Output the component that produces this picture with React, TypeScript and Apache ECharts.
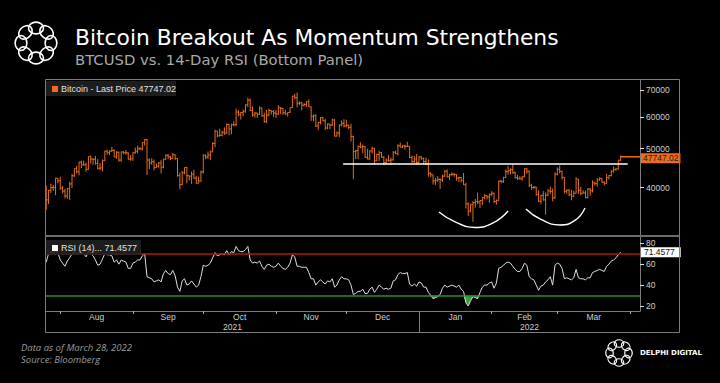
import { useEffect, useRef } from "react";
import * as echarts from "echarts";

// ---------- data ----------
const START_DATE = "2021-07-26";
const FIRST_OPEN = 35400; // close of 2021-07-25
const LAST_PRICE = 47747.02;
const LAST_RSI = 71.4577;

const closes = [
  37300, 39400, 40000, 40000, 42200, 41600,
  39900, 39200, 38150, 39750, 40870, 42820, 44600, 43800, 46300, 45600, 45580, 44430, 47800, 47100, 47050, 45950, 44700, 44800, 46700, 49300, 48900, 49300, 49550, 47700, 48970, 46850, 49070, 48900, 48800, 47050, 47170,
  48850, 49300, 50000, 49950, 51770, 52660, 46860, 46100, 46400, 44850, 45200, 46060, 44960, 47100, 48150, 47750, 47300, 48300, 47260, 42850, 40690, 43560, 44890, 42840, 42720, 43200, 42220, 41030, 41560, 43790,
  48120, 47700, 48200, 49100, 51500, 55300, 53800, 53950, 54950, 54650, 57470, 56000, 57370, 57350, 61670, 60880, 61530, 62000, 64280, 66000, 62200, 60690, 61290, 60860, 63080, 60330, 58450, 60620, 62230, 61880, 61320,
  61000, 63220, 62970, 61450, 61000, 61530, 63300, 67550, 66970, 64880, 64950, 64150, 64400, 65470, 63560, 60160, 60370, 56940, 58120, 59750, 58700, 56300, 57570, 57200, 58960, 53730, 54720, 57270, 57800, 56950,
  57180, 56500, 53600, 49200, 49400, 50580, 50470, 50600, 47590, 47150, 49380, 50100, 46700, 48340, 48860, 47630, 46130, 46830, 46680, 46900, 48990, 48600, 50820, 50430, 50800, 50640, 50700, 47540, 46470, 47120, 46210,
  47700, 47300, 46430, 45830, 43430, 43080, 41560, 41730, 41900, 41820, 42740, 43950, 42590, 43100, 43180, 43110, 42250, 42380, 41680, 40680, 36450, 35030, 36280, 36690, 36950, 36850, 37150, 37780, 38180, 37920, 38480,
  38740, 36950, 37150, 41500, 41410, 42410, 43840, 44100, 44340, 43570, 42410, 42200, 42090, 42550, 44580, 43960, 40550, 40030, 40120, 38430, 37020, 38280, 37300, 38330, 39240, 39130, 37720, 43190,
  44420, 43920, 42450, 39150, 39400, 38420, 38060, 38740, 41980, 39440, 38730, 38810, 37790, 39670, 39280, 41110, 40920, 41770, 42190, 41260, 41000, 42360, 42890, 43960, 44350, 44500, 46820, 47747.02,
];

const highs = [
  40500, 39500, 40900, 40600, 42300, 42300,
  42600, 40400, 39700, 39950, 41400, 43300, 44700, 45300, 46400, 46700, 46700, 46200, 47900, 48100, 47300, 48000, 47100, 46000, 47000, 49400, 49700, 49500, 50500, 49800, 49300, 49200, 49200, 49300, 49600, 49000, 48200,
  49000, 50300, 50900, 50500, 51800, 52800, 52900, 47300, 47300, 47000, 45900, 46300, 46900, 47200, 48400, 48500, 48000, 48800, 48400, 47300, 43600, 44000, 44900, 45100, 42900, 43900, 44300, 42800, 42600, 44100,
  48400, 48400, 49200, 49500, 51900, 55700, 55300, 56100, 55400, 56500, 57800, 57600, 57700, 58500, 62900, 62300, 61700, 62600, 64400, 67000, 66600, 63700, 61700, 61500, 63700, 63300, 61500, 62400, 62900, 62300, 62400,
  62400, 64200, 63500, 63100, 62500, 61600, 63300, 67700, 68500, 68990, 65600, 65400, 64900, 65500, 66300, 63600, 60800, 60900, 58300, 59900, 60000, 59300, 57800, 57700, 59400, 59200, 55200, 57400, 58800, 59200,
  59000, 57400, 57600, 53900, 49700, 50900, 51900, 51200, 50800, 50000, 49500, 50600, 50200, 48600, 49400, 49100, 47900, 47300, 48200, 47500, 49300, 49500, 51300, 51800, 51100, 51200, 52000, 50700, 48100, 47900, 48500,
  47900, 47900, 47500, 47500, 47000, 43700, 43100, 42300, 42700, 42200, 43100, 44300, 44400, 43300, 43700, 43500, 43200, 42600, 42500, 43500, 41100, 36800, 36500, 37000, 37500, 38900, 37200, 37900, 38600, 38300, 38700,
  39200, 38900, 37400, 41700, 41900, 42600, 44400, 45300, 44700, 45800, 43900, 43000, 42700, 42800, 44700, 44800, 44100, 40900, 40400, 40200, 39400, 38400, 39200, 38900, 39700, 40200, 39800, 43700,
  44900, 45400, 44100, 42500, 39600, 39700, 39500, 39300, 42500, 42000, 40200, 39400, 39300, 39900, 39900, 41700, 41400, 42300, 42400, 42300, 41500, 43300, 43000, 44200, 45100, 44800, 46900, 48100,
];

const lows = [
  35300, 36400, 38800, 39300, 38300, 41000,
  39500, 38700, 37600, 37500, 37300, 39900, 42500, 43400, 42900, 44700, 45400, 43800, 44300, 45900, 45600, 45600, 44400, 44200, 43900, 46600, 48300, 48200, 49100, 47600, 47200, 46400, 46400, 48400, 48300, 46900, 46700,
  46600, 48600, 48600, 49500, 49500, 50900, 43000, 44500, 45600, 44200, 44800, 44800, 43400, 44700, 46800, 47100, 46800, 47100, 46900, 42600, 39600, 40600, 43200, 41000, 41700, 40900, 42100, 40900, 41000, 41400,
  43300, 47100, 47100, 46900, 49000, 50400, 53400, 53600, 53700, 54100, 54400, 54000, 54300, 56800, 56900, 60200, 59100, 60200, 61400, 63500, 62000, 60000, 59700, 59600, 60700, 60100, 58000, 57900, 60200, 60800, 60000,
  59700, 60700, 60900, 60700, 60700, 60100, 61400, 63200, 66300, 63300, 64100, 62300, 63700, 63600, 63500, 58600, 58500, 56600, 55600, 57500, 58600, 55700, 55900, 55900, 57000, 53600, 53700, 53400, 56800, 56500,
  56500, 55900, 52100, 42000, 47100, 47100, 50100, 48700, 47400, 47000, 46900, 48700, 45800, 46600, 46600, 47500, 45500, 45800, 46400, 45600, 46700, 48500, 48100, 50400, 50200, 49700, 50500, 47400, 46100, 46000, 45700,
  46200, 46900, 45700, 45500, 42600, 42500, 40700, 40600, 41300, 39700, 41300, 42500, 42400, 41800, 42700, 42600, 41600, 41300, 41200, 40600, 35500, 34000, 34700, 32900, 35700, 36400, 35600, 36200, 37400, 37400, 36700,
  38100, 36600, 36300, 37100, 41000, 41100, 42300, 43100, 43200, 43300, 42100, 41800, 41900, 41600, 42500, 43300, 40100, 39500, 39700, 38200, 36800, 36400, 37100, 34300, 38100, 38600, 37000, 37500,
  42900, 43400, 41900, 38700, 38600, 38100, 37200, 37900, 38700, 38600, 38300, 38700, 37600, 37600, 38200, 38900, 40500, 40200, 41700, 41100, 40500, 40900, 41900, 42600, 43600, 44100, 44400, 46600,
];

const rsi = [
  62, 70, 72, 71, 73, 71,
  64, 61, 58, 63, 66, 70, 72, 69, 72, 70, 70, 67, 72, 70, 68, 64, 59, 60, 65, 70, 69, 69, 68, 62, 64, 60, 64, 63, 62, 56, 56,
  61, 62, 64, 64, 68, 70, 48, 47, 46, 43, 44, 45, 43, 51, 54, 51, 50, 54, 49, 38, 34, 44, 46, 40, 41, 44, 41, 38, 40, 48,
  59, 58, 59, 61, 66, 71, 68, 69, 70, 69, 73, 69, 72, 71, 77, 73, 72, 72, 74, 77, 64, 61, 62, 61, 63, 58, 55, 59, 60, 58, 57,
  58, 61, 58, 56, 55, 57, 61, 69, 67, 58, 58, 57, 57, 57, 52, 46, 46, 40, 43, 45, 43, 41, 44, 43, 46, 38, 40, 45, 48, 46,
  46, 45, 40, 31, 32, 34, 34, 36, 32, 32, 36, 38, 33, 36, 40, 38, 36, 37, 36, 37, 44, 45, 50, 52, 51, 51, 52, 41, 39, 41, 39,
  43, 42, 38, 38, 33, 30, 27, 28, 29, 31, 37, 40, 38, 39, 40, 39, 38, 40, 36, 34, 23, 20, 25, 29, 28, 27, 33, 38, 40, 40, 42,
  43, 37, 42, 56, 57, 59, 61, 62, 61, 58, 55, 53, 53, 56, 61, 59, 48, 46, 45, 40, 35, 39, 40, 43, 45, 48, 40, 59,
  61, 60, 56, 46, 47, 46, 45, 47, 55, 47, 46, 46, 45, 47, 47, 52, 53, 54, 55, 54, 53, 58, 60, 63, 64, 66, 69, 71.4577,
];

const priceTicks = [40000, 50000, 60000, 70000];
const rsiTicks = [20, 40, 60, 80];
const RSI_OVERBOUGHT = 70;
const RSI_OVERSOLD = 30;
const monthStarts = ["2021-08-01", "2021-09-01", "2021-10-01", "2021-11-01", "2021-12-01", "2022-01-01", "2022-02-01", "2022-03-01", "2022-04-01"];
const MONTHS = ["Jan", "Feb", "Mar", "Apr", "May", "Jun", "Jul", "Aug", "Sep", "Oct", "Nov", "Dec"];
const YEAR_BOUNDARY = "2022-01-01";
const X_MIN = "2021-07-25T22:00";
const X_MAX = "2022-04-05T06:00";

// annotations
const resistanceLine: [string, number][] = [["2021-11-29T16:00", 45800], ["2022-03-31T00:00", 45800]];
const cupArc1: [string, number][] = [["2022-01-09T12:00", 34800], ["2022-01-16T10:00", 32870], ["2022-01-24T22:00", 31850], ["2022-02-01T14:00", 32680], ["2022-02-08T00:00", 35000]];
const cupArc2: [string, number][] = [["2022-02-15T14:00", 35400], ["2022-02-22T00:00", 33340], ["2022-03-02T02:00", 32310], ["2022-03-08T12:00", 33150], ["2022-03-12T19:00", 35610]];

// ---------- helpers ----------
const DAY = 86400000;
const toTs = (s: string) => Date.parse(s.length <= 10 ? s + "T00:00:00Z" : s + "Z");
const ORANGE = "#e2701f";
const ORANGE_LABEL = "#f06c1c";
const FRAME = "#7c7c7c";
const AXIS_TEXT = "#cfcfcf";
const FONT = "Liberation Sans";
const TITLE_FONT = "DejaVu Sans";

function ring(cx: number, cy: number, r0: number, rr: number, lw: number) {
  const children: any[] = [];
  for (let i = 0; i < 8; i++) {
    const a = (Math.PI * 2 * i) / 8 - Math.PI / 2;
    children.push({
      type: "ellipse",
      x: cx + r0 * Math.cos(a),
      y: cy + r0 * Math.sin(a),
      rotation: -a,
      shape: { cx: 0, cy: 0, rx: rr * 0.78, ry: rr },
      style: { fill: "none", stroke: "#ffffff", lineWidth: lw },
      z: 50,
    });
  }
  return children;
}

export default function App() {
  const ref = useRef<HTMLDivElement>(null);

  useEffect(() => {
    if (!ref.current) return;
    const chart = echarts.init(ref.current, undefined, { renderer: "svg" });

    const start = toTs(START_DATE);
    const dates = closes.map((_, i) => start + i * DAY);
    const xMin = toTs(X_MIN);
    const xMax = toTs(X_MAX);
    const lastTs = dates[dates.length - 1];

    const ohlc = closes.map((c, i) => [dates[i], i === 0 ? FIRST_OPEN : closes[i - 1], c, lows[i], highs[i]]);
    const monthTs = monthStarts.map(toTs);
    const monthMids = monthTs.slice(0, -1).map((t, i) => (t + monthTs[i + 1]) / 2);
    const yb = toTs(YEAR_BOUNDARY);
    const yearMids = [(xMin + yb) / 2, (yb + xMax) / 2];
    const toPts = (arr: [string, number][]) => arr.map(([d, v]) => [toTs(d), v]);

    const option: any = {
      backgroundColor: "#000000",
      animation: false,
      grid: [
        { left: 46, right: 80, top: 80, height: 155, outerBoundsMode: "none" },
        { left: 46, right: 80, top: 237, height: 74, outerBoundsMode: "none" },
      ],
      xAxis: [
        { type: "value", gridIndex: 0, min: xMin, max: xMax, show: false },
        {
          type: "value", gridIndex: 1, position: "bottom", min: xMin, max: xMax,
          axisLine: { show: true, lineStyle: { color: FRAME, width: 1 } },
          axisTick: { show: true, customValues: monthTs, length: 3, lineStyle: { color: "#aaaaaa" } },
          axisLabel: {
            customValues: monthMids, color: AXIS_TEXT, fontSize: 8.5, fontFamily: FONT, margin: 1, lineHeight: 9,
            formatter: (v: number) => MONTHS[new Date(v).getUTCMonth()],
          },
          splitLine: { show: false },
        },
        {
          type: "value", gridIndex: 1, position: "bottom", offset: 0, min: xMin, max: xMax,
          axisLine: { show: false },
          axisTick: { show: true, customValues: [yb], length: 22, lineStyle: { color: FRAME } },
          axisLabel: {
            customValues: yearMids, color: AXIS_TEXT, fontSize: 8.5, fontFamily: FONT, margin: 11, lineHeight: 9,
            formatter: (v: number) => String(new Date(v).getUTCFullYear()),
          },
          splitLine: { show: false },
        },
      ],
      yAxis: [
        {
          type: "log", logBase: 10, gridIndex: 0, position: "right", min: 30500, max: 74100,
          axisLine: { show: true, lineStyle: { color: FRAME } },
          axisTick: { show: true, customValues: priceTicks, length: 4, lineStyle: { color: "#dddddd" } },
          axisLabel: {
            customValues: priceTicks, color: AXIS_TEXT, fontSize: 8.5, fontFamily: FONT, margin: 6, lineHeight: 9,
            formatter: (v: number) => String(Math.round(v)),
          },
          splitLine: { show: false },
        },
        {
          type: "value", gridIndex: 1, position: "right", min: 15.2, max: 86,
          axisLine: { show: true, lineStyle: { color: FRAME } },
          axisTick: { show: true, customValues: rsiTicks, length: 4, lineStyle: { color: "#dddddd" } },
          axisLabel: { customValues: rsiTicks, color: AXIS_TEXT, fontSize: 8.5, fontFamily: FONT, margin: 6, lineHeight: 9 },
          splitLine: { show: false },
        },
      ],
      series: [
        {
          type: "custom", name: "Bitcoin", xAxisIndex: 0, yAxisIndex: 0, data: ohlc,
          encode: { x: 0, y: [1, 2, 3, 4] }, clip: true,
          renderItem: (_p: any, api: any) => {
            const x = api.value(0);
            const o = api.coord([x, api.value(1)]);
            const c = api.coord([x, api.value(2)]);
            const l = api.coord([x, api.value(3)]);
            const h = api.coord([x, api.value(4)]);
            const style = { stroke: ORANGE, lineWidth: 1 };
            return {
              type: "group",
              children: [
                { type: "line", shape: { x1: h[0], y1: h[1], x2: l[0], y2: l[1] }, style },
                { type: "line", shape: { x1: o[0] - 1.2, y1: o[1], x2: o[0], y2: o[1] }, style },
                { type: "line", shape: { x1: c[0], y1: c[1], x2: c[0] + 1.2, y2: c[1] }, style },
              ],
            };
          },
        },
        {
          type: "line", name: "resistance", xAxisIndex: 0, yAxisIndex: 0, data: toPts(resistanceLine),
          symbol: "none", lineStyle: { color: "#ffffff", width: 1.6 }, z: 5, silent: true,
        },
        {
          type: "line", name: "cup1", xAxisIndex: 0, yAxisIndex: 0, data: toPts(cupArc1), smooth: true,
          symbol: "none", lineStyle: { color: "#ffffff", width: 1.4 }, silent: true,
        },
        {
          type: "line", name: "cup2", xAxisIndex: 0, yAxisIndex: 0, data: toPts(cupArc2), smooth: true,
          symbol: "none", lineStyle: { color: "#ffffff", width: 1.4 }, silent: true,
        },
        {
          type: "line", name: "last", xAxisIndex: 0, yAxisIndex: 0, data: [[lastTs, LAST_PRICE], [xMax, LAST_PRICE]],
          symbol: "none", lineStyle: { color: ORANGE_LABEL, width: 1.5 }, silent: true, z: 6,
          endLabel: {
            show: true, formatter: () => LAST_PRICE.toFixed(2), backgroundColor: ORANGE_LABEL, color: "#1a1a1a",
            fontSize: 8.5, fontFamily: FONT, lineHeight: 9, padding: [1, 2, 0, 2], distance: 1, offset: [0, 1.5],
          },
        },
        {
          type: "line", name: "RSI", xAxisIndex: 1, yAxisIndex: 1, data: rsi.map((v, i) => [dates[i], v]),
          symbol: "none", lineStyle: { color: "#dedede", width: 1 }, z: 4,
          markLine: {
            silent: true, symbol: "none", label: { show: false },
            data: [
              { yAxis: RSI_OVERBOUGHT, lineStyle: { color: "#b0151b", width: 1.5, type: "solid" } },
              { yAxis: RSI_OVERSOLD, lineStyle: { color: "#2f8d2f", width: 1.5, type: "solid" } },
            ],
          },
        },
        {
          type: "line", name: "oversold", xAxisIndex: 1, yAxisIndex: 1,
          data: rsi.map((v, i) => [dates[i], Math.min(v, RSI_OVERSOLD)]),
          symbol: "none", lineStyle: { width: 0, opacity: 0 }, silent: true, z: 3,
          areaStyle: { color: "#3d9c3d", opacity: 1, origin: RSI_OVERSOLD },
        },
        {
          type: "line", name: "rsiLast", xAxisIndex: 1, yAxisIndex: 1, data: [[lastTs, LAST_RSI], [xMax, LAST_RSI]],
          symbol: "none", lineStyle: { opacity: 0 }, silent: true,
          endLabel: {
            show: true, formatter: () => String(LAST_RSI), backgroundColor: "#ffffff", color: "#111111",
            fontSize: 8.5, fontFamily: FONT, lineHeight: 9, padding: [1, 6, 0, 3], distance: 1,
          },
        },
      ],
      graphic: [
        // frame
        { type: "rect", shape: { x: 45.5, y: 79.5, width: 634, height: 253 }, style: { fill: "none", stroke: FRAME, lineWidth: 1 }, z: 40, silent: true },
        { type: "line", shape: { x1: 46, y1: 236, x2: 679, y2: 236 }, style: { stroke: "#6c6c6c", lineWidth: 2 }, z: 40, silent: true },
        // legends
        { type: "rect", shape: { x: 46, y: 81, width: 130, height: 15 }, style: { fill: "rgba(34,34,34,0.85)" }, z: 45 },
        { type: "rect", shape: { x: 52, y: 86, width: 6, height: 6 }, style: { fill: ORANGE_LABEL }, z: 46 },
        { type: "text", x: 61, y: 89, style: { text: "Bitcoin - Last Price 47747.02", fill: "#e2e2e2", fontSize: 9, fontFamily: FONT, verticalAlign: "middle" }, z: 46 },
        { type: "rect", shape: { x: 46, y: 240, width: 95, height: 15 }, style: { fill: "rgba(34,34,34,0.85)" }, z: 45 },
        { type: "rect", shape: { x: 52, y: 245, width: 6, height: 6 }, style: { fill: "#ffffff" }, z: 46 },
        { type: "text", x: 61, y: 248, style: { text: "RSI (14)... 71.4577", fill: "#e2e2e2", fontSize: 9, fontFamily: FONT, verticalAlign: "middle" }, z: 46 },
        // titles
        { type: "text", x: 75, y: 37, style: { text: "Bitcoin Breakout As Momentum Strengthens", fill: "#ffffff", fontSize: 21.8, fontFamily: TITLE_FONT, verticalAlign: "middle" }, z: 50 },
        { type: "text", x: 75, y: 59.5, style: { text: "BTCUSD vs. 14-Day RSI (Bottom Panel)", fill: "#a9a9a9", fontSize: 14.8, fontFamily: TITLE_FONT, verticalAlign: "middle" }, z: 50 },
        // footer
        { type: "text", x: 21, y: 347, style: { text: "Data as of March 28, 2022", fill: "#9a9a9a", fontSize: 9.5, fontStyle: "italic", fontFamily: "Open Sans", verticalAlign: "middle" }, z: 50 },
        { type: "text", x: 21, y: 359, style: { text: "Source: Bloomberg", fill: "#9a9a9a", fontSize: 9.5, fontStyle: "italic", fontFamily: "Open Sans", verticalAlign: "middle" }, z: 50 },
        { type: "text", x: 640, y: 353, style: { text: "DELPHI DIGITAL", fill: "#ffffff", fontSize: 7, fontWeight: "bold", fontFamily: "DejaVu Sans", verticalAlign: "middle" }, z: 50 },
        { type: "group", children: ring(36, 43, 15, 7.5, 1.6) },
        { type: "group", children: ring(619, 353, 9.5, 4.8, 1.2) },
      ],
    };

    chart.setOption(option);
    return () => chart.dispose();
  }, []);

  return <div ref={ref} style={{ position: "fixed", left: 0, top: 0, width: 720, height: 383, background: "#000" }} />;
}
